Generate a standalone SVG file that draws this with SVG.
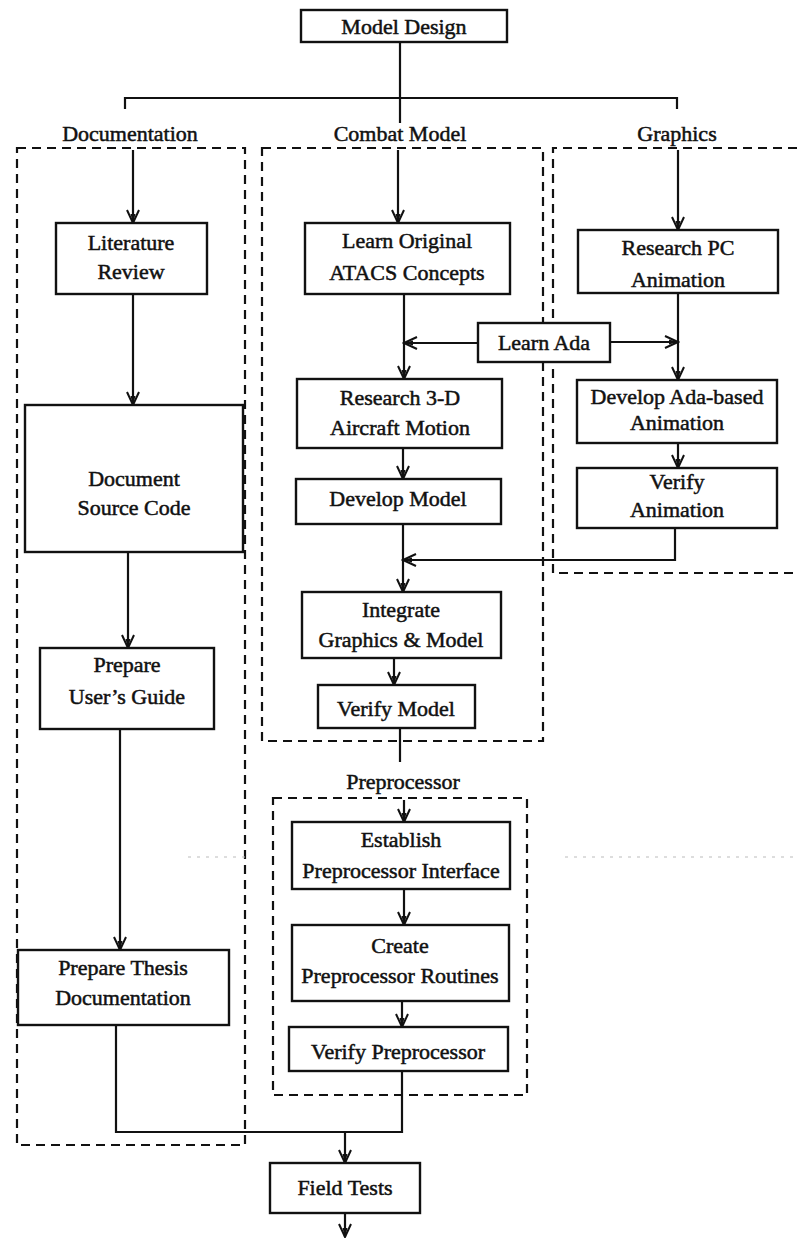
<svg xmlns="http://www.w3.org/2000/svg" width="797" height="1238" viewBox="0 0 797 1238">
  <style>
    .box { fill: #ffffff; stroke: #111; stroke-width: 2.4; }
    .grp { fill: none; stroke: #111; stroke-width: 2.2; stroke-dasharray: 9 6; }
    .ln { fill: none; stroke: #111; stroke-width: 2.2; }
    .t { font-family: "Liberation Serif", "Times New Roman", serif; font-size: 22px; fill: #111; stroke: #111; stroke-width: 0.5; text-anchor: middle; }
    .faint { fill: none; stroke: #bbb; stroke-width: 1; stroke-dasharray: 3 6; }
  </style>
  <defs>
    <marker id="arr" markerUnits="userSpaceOnUse" markerWidth="16" markerHeight="14" refX="14" refY="7" orient="auto">
      <path d="M1,1 L14,7 L1,13" fill="none" stroke="#111" stroke-width="2"/>
      <path d="M5,4.5 L14,7 L5,9.5 Z" fill="#111"/>
    </marker>
  </defs>

  <rect width="797" height="1238" fill="#ffffff"/>

  <!-- group frames -->
  <g id="frames">
    <rect class="grp" x="17" y="148" width="228" height="997"/>
    <rect class="grp" x="262" y="148" width="281" height="593"/>
    <path class="grp" d="M797,148 H553 V573 H797"/>
    <rect class="grp" x="273" y="798" width="254" height="297"/>
    <path class="faint" d="M188,857 H250 M565,857 H797"/>
  </g>

  <!-- group titles -->
  <g id="titles">
    <text class="t" x="130" y="141">Documentation</text>
    <text class="t" x="400" y="141">Combat Model</text>
    <text class="t" x="677" y="141">Graphics</text>
    <text class="t" x="403" y="789">Preprocessor</text>
  </g>

  <!-- connectors -->
  <g id="connectors">
    <path class="ln" d="M400,42 V123"/>
    <path class="ln" d="M125,109 V98 H677 V109"/>

    <path class="ln" d="M133,150 V223" marker-end="url(#arr)"/>
    <path class="ln" d="M133,294 V405" marker-end="url(#arr)"/>
    <path class="ln" d="M128,552 V648" marker-end="url(#arr)"/>
    <path class="ln" d="M120,729 V950" marker-end="url(#arr)"/>
    <path class="ln" d="M116,1025 V1132 H402 V1071"/>
    <path class="ln" d="M345,1132 V1163" marker-end="url(#arr)"/>
    <path class="ln" d="M345,1213 V1237" marker-end="url(#arr)"/>

    <path class="ln" d="M398,150 V223" marker-end="url(#arr)"/>
    <path class="ln" d="M404,294 V379" marker-end="url(#arr)"/>
    <path class="ln" d="M478,343 H404" marker-end="url(#arr)"/>
    <path class="ln" d="M610,342 H678" marker-end="url(#arr)"/>
    <path class="ln" d="M403,448 V479" marker-end="url(#arr)"/>
    <path class="ln" d="M403,524 V592" marker-end="url(#arr)"/>
    <path class="ln" d="M675,528 V560 H403" marker-end="url(#arr)"/>
    <path class="ln" d="M394,658 V685" marker-end="url(#arr)"/>
    <path class="ln" d="M400,728 V762"/>

    <path class="ln" d="M678,150 V230" marker-end="url(#arr)"/>
    <path class="ln" d="M678,293 V380" marker-end="url(#arr)"/>
    <path class="ln" d="M678,443 V468" marker-end="url(#arr)"/>

    <path class="ln" d="M404,800 V822" marker-end="url(#arr)"/>
    <path class="ln" d="M404,889 V925" marker-end="url(#arr)"/>
    <path class="ln" d="M402,1001 V1027" marker-end="url(#arr)"/>
  </g>

  <!-- nodes -->
  <g id="model-design">
    <rect class="box" x="301" y="10" width="206" height="32"/>
    <text class="t" x="404" y="34">Model Design</text>
  </g>

  <g id="literature-review">
    <rect class="box" x="56" y="223" width="151" height="71"/>
    <text class="t" x="131" y="250">Literature</text>
    <text class="t" x="131" y="279">Review</text>
  </g>
  <g id="document-source-code">
    <rect class="box" x="25" y="405" width="218" height="147"/>
    <text class="t" x="134" y="486">Document</text>
    <text class="t" x="134" y="515">Source Code</text>
  </g>
  <g id="prepare-users-guide">
    <rect class="box" x="40" y="648" width="174" height="81"/>
    <text class="t" x="127" y="672">Prepare</text>
    <text class="t" x="127" y="704">User’s Guide</text>
  </g>
  <g id="prepare-thesis">
    <rect class="box" x="18" y="950" width="211" height="75"/>
    <text class="t" x="123" y="975">Prepare Thesis</text>
    <text class="t" x="123" y="1005">Documentation</text>
  </g>

  <g id="learn-original">
    <rect class="box" x="305" y="223" width="205" height="71"/>
    <text class="t" x="407" y="248">Learn Original</text>
    <text class="t" x="407" y="280">ATACS Concepts</text>
  </g>
  <g id="learn-ada">
    <rect class="box" x="478" y="323" width="132" height="39"/>
    <text class="t" x="544" y="350">Learn Ada</text>
  </g>
  <g id="research-3d">
    <rect class="box" x="297" y="379" width="205" height="69"/>
    <text class="t" x="400" y="405">Research 3-D</text>
    <text class="t" x="400" y="435">Aircraft Motion</text>
  </g>
  <g id="develop-model">
    <rect class="box" x="296" y="479" width="205" height="45"/>
    <text class="t" x="398" y="506">Develop Model</text>
  </g>
  <g id="integrate">
    <rect class="box" x="302" y="592" width="199" height="66"/>
    <text class="t" x="401" y="617">Integrate</text>
    <text class="t" x="401" y="647">Graphics &amp; Model</text>
  </g>
  <g id="verify-model">
    <rect class="box" x="318" y="685" width="157" height="43"/>
    <text class="t" x="396" y="716">Verify Model</text>
  </g>

  <g id="research-pc">
    <rect class="box" x="578" y="230" width="200" height="63"/>
    <text class="t" x="678" y="255">Research  PC</text>
    <text class="t" x="678" y="287">Animation</text>
  </g>
  <g id="develop-ada-animation">
    <rect class="box" x="577" y="380" width="200" height="63"/>
    <text class="t" x="677" y="404">Develop Ada-based</text>
    <text class="t" x="677" y="430">Animation</text>
  </g>
  <g id="verify-animation">
    <rect class="box" x="577" y="468" width="200" height="60"/>
    <text class="t" x="677" y="489">Verify</text>
    <text class="t" x="677" y="517">Animation</text>
  </g>

  <g id="establish-interface">
    <rect class="box" x="292" y="822" width="218" height="67"/>
    <text class="t" x="401" y="847">Establish</text>
    <text class="t" x="401" y="878">Preprocessor Interface</text>
  </g>
  <g id="create-routines">
    <rect class="box" x="292" y="925" width="217" height="76"/>
    <text class="t" x="400" y="953">Create</text>
    <text class="t" x="400" y="983">Preprocessor Routines</text>
  </g>
  <g id="verify-preprocessor">
    <rect class="box" x="289" y="1027" width="219" height="44"/>
    <text class="t" x="398" y="1059">Verify Preprocessor</text>
  </g>

  <g id="field-tests">
    <rect class="box" x="270" y="1163" width="150" height="50"/>
    <text class="t" x="345" y="1195">Field Tests</text>
  </g>
</svg>
